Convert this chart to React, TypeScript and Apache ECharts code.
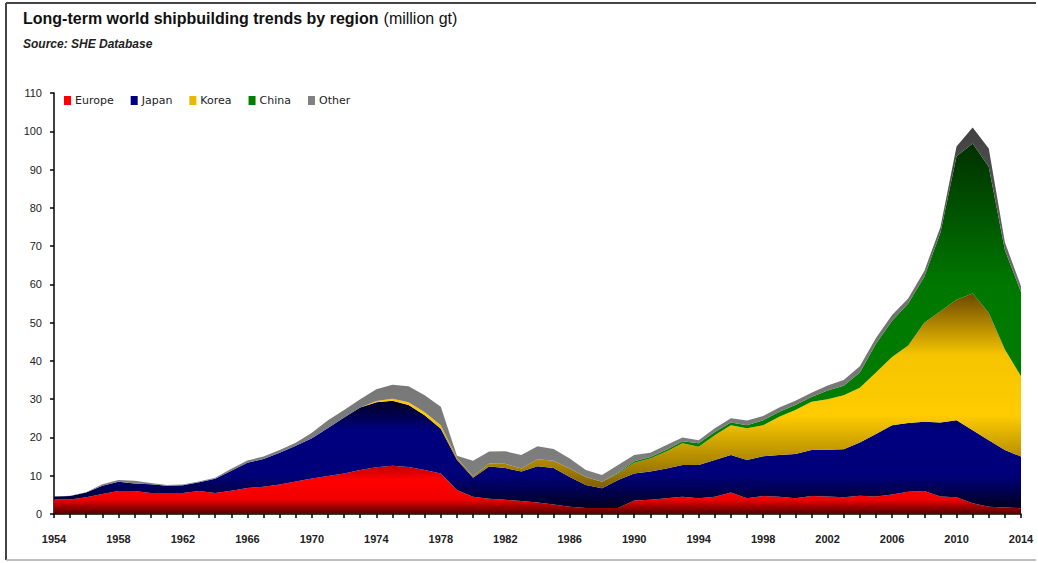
import React, { useEffect, useRef } from "react";
import * as echarts from "echarts";

const years = [
  "1954","1955","1956","1957","1958","1959","1960","1961","1962","1963",
  "1964","1965","1966","1967","1968","1969","1970","1971","1972","1973",
  "1974","1975","1976","1977","1978","1979","1980","1981","1982","1983",
  "1984","1985","1986","1987","1988","1989","1990","1991","1992","1993",
  "1994","1995","1996","1997","1998","1999","2000","2001","2002","2003",
  "2004","2005","2006","2007","2008","2009","2010","2011","2012","2013","2014",
];

// cumulative tops (million gt)
const europe = [
  3.8, 3.8, 4.4, 5.2, 6.0, 6.0, 5.5, 5.5, 5.5, 6.0,
  5.5, 6.1, 6.8, 7.1, 7.7, 8.5, 9.3, 9.9, 10.6, 11.5,
  12.2, 12.6, 12.3, 11.5, 10.6, 6.3, 4.5, 4.0, 3.7, 3.4,
  3.0, 2.5, 1.9, 1.6, 1.6, 1.6, 3.5, 3.7, 4.1, 4.5,
  4.1, 4.5, 5.6, 4.1, 4.7, 4.5, 4.1, 4.7, 4.6, 4.4,
  4.8, 4.6, 5.1, 5.8, 6.0, 4.6, 4.4, 2.8, 1.9, 1.7, 1.5,
];
const japanTop = [
  4.6, 4.7, 5.6, 7.4, 8.4, 8.0, 7.8, 7.4, 7.5, 8.3,
  9.2, 11.3, 13.4, 14.4, 16.0, 17.8, 19.8, 22.5, 25.2, 27.8,
  29.2, 29.6, 28.5, 25.8, 22.3, 14.2, 9.5, 12.4, 12.0, 11.1,
  12.5, 12.0, 9.7, 7.6, 6.7, 8.9, 10.6, 11.1, 11.9, 12.8,
  12.8, 14.1, 15.4, 14.1, 15.1, 15.4, 15.7, 16.7, 16.8, 16.9,
  18.7, 20.9, 23.2, 23.8, 24.1, 23.9, 24.5, 21.9, 19.3, 16.7, 15.0,
];
const koreaTop = [
  4.6, 4.7, 5.6, 7.4, 8.4, 8.0, 7.8, 7.4, 7.5, 8.3,
  9.2, 11.3, 13.4, 14.4, 16.0, 17.8, 19.8, 22.5, 25.2, 27.8,
  29.5, 30.1, 29.2, 26.6, 23.2, 14.7, 9.8, 13.2, 13.1, 11.9,
  14.3, 13.9, 11.9, 9.7, 8.4, 10.6, 13.4, 14.5, 16.3, 18.5,
  17.6, 20.6, 23.2, 22.4, 23.2, 25.4, 27.2, 29.3, 30.0, 31.0,
  33.0, 37.0, 41.0, 44.0, 50.0, 53.0, 56.0, 57.6, 52.5, 43.0, 36.0,
];
const chinaTop = [
  4.6, 4.7, 5.6, 7.4, 8.4, 8.0, 7.8, 7.4, 7.5, 8.3,
  9.2, 11.3, 13.4, 14.4, 16.0, 17.8, 19.8, 22.5, 25.2, 27.8,
  29.5, 30.1, 29.2, 26.6, 23.2, 14.7, 9.8, 13.2, 13.1, 11.9,
  14.3, 13.9, 11.9, 9.7, 8.4, 10.8, 13.8, 14.9, 16.8, 19.0,
  18.5, 21.4, 23.9, 23.2, 24.5, 26.7, 28.5, 30.6, 32.3, 33.5,
  37.0, 44.5, 50.5, 55.0, 62.0, 73.5, 93.5, 96.8, 90.7, 69.0, 58.0,
];
const totalTop = [
  4.6, 4.8, 5.7, 7.8, 8.9, 8.7, 8.1, 7.6, 7.7, 8.5,
  9.5, 11.8, 14.0, 15.0, 16.7, 18.6, 21.2, 24.5, 27.2, 30.0,
  32.6, 33.8, 33.4, 31.0, 28.0, 15.2, 13.9, 16.3, 16.4, 15.4,
  17.7, 17.0, 14.5, 11.5, 10.2, 12.8, 15.4, 16.0, 18.0, 20.0,
  19.3, 22.4, 25.0, 24.4, 25.6, 27.8, 29.6, 31.7, 33.6, 35.0,
  38.6, 46.0, 52.0, 56.3, 63.5, 75.0, 96.0, 101.0, 95.5, 71.0, 59.5,
];

const yTicks = [0, 10, 20, 30, 40, 50, 60, 70, 80, 90, 100, 110];

const diff = (a: number[], b: number[]) =>
  a.map((v, i) => Math.max(0, +(v - b[i]).toFixed(2)));

const japan = diff(japanTop, europe);
const korea = diff(koreaTop, japanTop);
const china = diff(chinaTop, koreaTop);
const other = diff(totalTop, chinaTop);

const grad = (stops: [number, string][]) =>
  new echarts.graphic.LinearGradient(
    0, 0, 0, 1,
    stops.map(([offset, color]) => ({ offset, color }))
  );

export default function App() {
  const ref = useRef<HTMLDivElement>(null);
  useEffect(() => {
    const chart = echarts.init(ref.current!, null, { renderer: "svg" });
    const mk = (name: string, data: number[], fill: any, legendColor: string) => ({
      name,
      type: "line",
      stack: "total",
      data,
      symbol: "none",
      lineStyle: { width: 0 },
      itemStyle: { color: legendColor },
      areaStyle: { color: fill, opacity: 1 },
    });
    chart.setOption({
      animation: false,
      backgroundColor: "#ffffff",
      title: {
        left: 18,
        top: 4,
        text: "{b|Long-term world shipbuilding trends by region} {n|(million gt)}",
        textStyle: {
          rich: {
            b: { fontFamily: "Liberation Sans", fontWeight: "bold", fontSize: 16, color: "#111" },
            n: { fontFamily: "Liberation Sans", fontWeight: "normal", fontSize: 16, color: "#111" },
          },
        },
        subtext: "Source: SHE Database",
        itemGap: 11,
        subtextStyle: {
          fontFamily: "Liberation Sans",
          fontStyle: "italic",
          fontWeight: "bold",
          fontSize: 12,
          color: "#222",
        },
      },
      legend: {
        left: 59,
        top: 90,
        itemWidth: 7,
        itemHeight: 9,
        itemGap: 17,
        icon: "rect",
        textStyle: { fontFamily: "DejaVu Sans", fontSize: 11, color: "#222", padding: [0, 0, 0, -1] },
        data: ["Europe", "Japan", "Korea", "China", "Other"],
      },
      grid: { left: 54, right: 17, top: 93, bottom: 49 },
      xAxis: {
        type: "category",
        data: years,
        boundaryGap: false,
        axisLine: { lineStyle: { color: "#000", width: 1.5 } },
        axisTick: { interval: 0, length: 4, lineStyle: { color: "#000", width: 1.5 } },
        axisLabel: {
          interval: 3,
          margin: 19,
          fontFamily: "Liberation Sans",
          fontWeight: "bold",
          fontSize: 11,
          color: "#222",
        },
        splitLine: { show: false },
      },
      yAxis: {
        type: "value",
        min: yTicks[0],
        max: yTicks[yTicks.length - 1],
        interval: 10,
        axisLine: { show: true, lineStyle: { color: "#000", width: 1.5 } },
        axisTick: { show: true, length: 4, lineStyle: { color: "#000", width: 1.5 } },
        axisLabel: {
          margin: 12,
          fontFamily: "Liberation Sans",
          fontSize: 11,
          color: "#222",
        },
        splitLine: { show: false },
      },
      graphic: [
        { type: "line", shape: { x1: 6, y1: 3, x2: 6, y2: 560 }, style: { stroke: "#444", lineWidth: 2 } },
        { type: "line", shape: { x1: 6, y1: 3, x2: 1036, y2: 3 }, style: { stroke: "#444", lineWidth: 2 } },
        { type: "line", shape: { x1: 6, y1: 560, x2: 1036, y2: 560 }, style: { stroke: "#aaa", lineWidth: 1.5 } },
      ],
      series: [
        mk("Europe", europe,
          grad([[0, "#c00000"], [0.3, "#ff0000"], [0.7, "#f00000"], [1, "#500000"]]), "#ff0000"),
        mk("Japan", japan,
          grad([[0, "#000020"], [0.28, "#000080"], [0.7, "#000078"], [1, "#000020"]]), "#000080"),
        mk("Korea", korea,
          grad([[0, "#6b4800"], [0.3, "#f5c400"], [0.6, "#ffcc00"], [1, "#705400"]]), "#e6b800"),
        mk("China", china,
          grad([[0, "#003000"], [0.4, "#007800"], [1, "#008000"]]), "#008000"),
        mk("Other", other,
          grad([[0, "#404040"], [0.4, "#707070"], [1, "#808080"]]), "#808080"),
      ],
    });
    return () => chart.dispose();
  }, []);
  return (
    <div
      ref={ref}
      style={{ position: "fixed", left: 0, top: 0, width: 1038, height: 563 }}
    />
  );
}
